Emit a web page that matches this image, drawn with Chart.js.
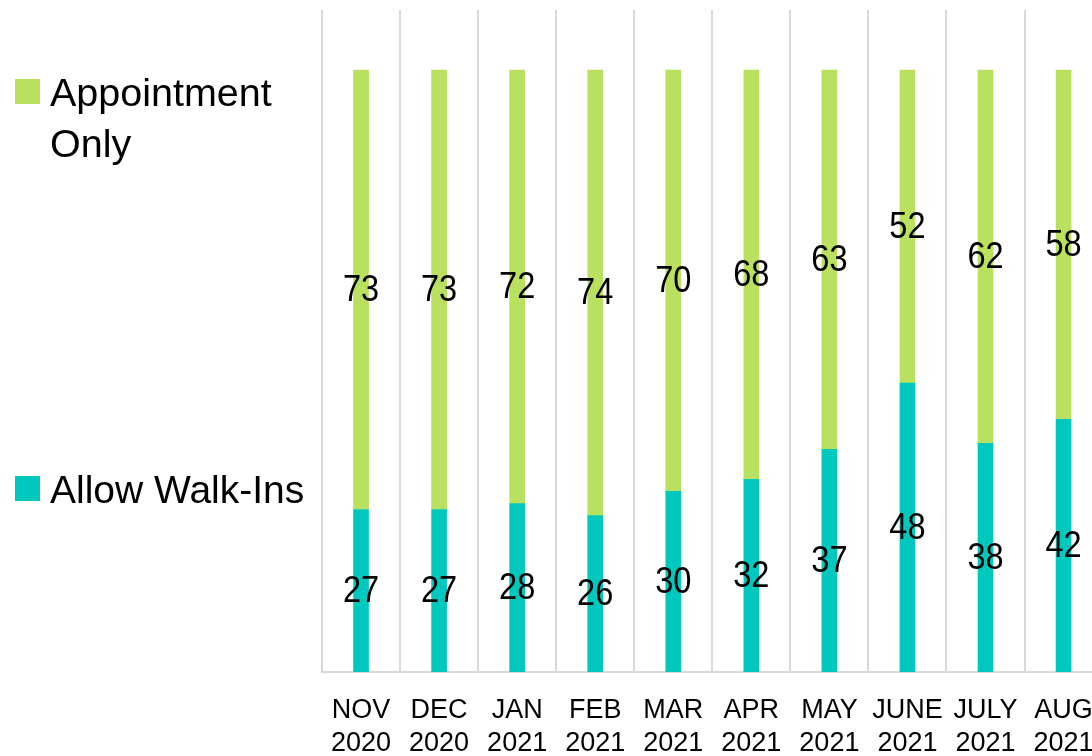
<!DOCTYPE html>
<html>
<head>
<meta charset="utf-8">
<script src="https://cdn.jsdelivr.net/npm/chart.js@4.4.0/dist/chart.umd.min.js"></script>
<style>
  html, body { margin: 0; padding: 0; background: #fff; overflow: hidden; width: 1092px; height: 756px; }
  #wrap { position: relative; width: 1092px; height: 756px; overflow: hidden; }
  canvas { position: absolute; left: 0; top: 0; }
  .leg { position: absolute; font-family: "Liberation Sans", Arial, sans-serif; color: #000; }
  .sw { position: absolute; width: 25px; height: 25px; }
  .lt { position: absolute; white-space: nowrap; }
</style>
</head>
<body>
<div id="wrap">
  <canvas id="c" width="1116" height="756"></canvas>
  <div id="legend"></div>
</div>
<script>
const categories = [
  ["NOV", "2020"], ["DEC", "2020"], ["JAN", "2021"], ["FEB", "2021"], ["MAR", "2021"],
  ["APR", "2021"], ["MAY", "2021"], ["JUNE", "2021"], ["JULY", "2021"], ["AUG", "2021"]
];
const walkInLabel = "Allow Walk-Ins";
const appointmentLabel = "Appointment Only";
const walkIns = [27, 27, 28, 26, 30, 32, 37, 48, 38, 42];
const appointmentOnly = [73, 73, 72, 74, 70, 68, 63, 52, 62, 58];
const walkInColor = "#00C8BE";
const appointmentColor = "#B9E05E";

// HTML legend
const legend = document.getElementById('legend');
legend.innerHTML =
  '<div class="leg" style="left:0;top:0;">' +
    '<div class="sw" style="left:15px;top:79px;background:' + appointmentColor + '"></div>' +
    '<div class="lt" style="left:50px;top:67px;font-size:39.5px;line-height:51px;">Appointment<br>Only</div>' +
    '<div class="sw" style="left:15px;top:476px;background:' + walkInColor + '"></div>' +
    '<div class="lt" style="left:50px;top:464px;font-size:39px;line-height:51px;">' + walkInLabel + '</div>' +
  '</div>';

const dataLabels = {
  id: 'dataLabels',
  afterDatasetsDraw(chart) {
    const ctx = chart.ctx;
    chart.data.datasets.forEach((ds, di) => {
      const meta = chart.getDatasetMeta(di);
      meta.data.forEach((el, i) => {
        const p = el.getProps(['x', 'y', 'base'], true);
        ctx.save();
        ctx.font = '37px "Liberation Sans", Arial, sans-serif';
        ctx.fillStyle = '#000';
        ctx.textAlign = 'center';
        ctx.textBaseline = 'middle';
        ctx.translate(p.x, (p.y + p.base) / 2 + 1);
        ctx.scale(0.88, 1);
        ctx.fillText(String(ds.data[i]), 0, 0);
        ctx.restore();
      });
    });
  }
};

new Chart(document.getElementById('c'), {
  type: 'bar',
  data: {
    labels: categories,
    datasets: [
      { label: walkInLabel, data: walkIns, backgroundColor: walkInColor, barThickness: 15 },
      { label: appointmentLabel, data: appointmentOnly, backgroundColor: appointmentColor, barThickness: 15 }
    ]
  },
  options: {
    responsive: false,
    animation: false,
    layout: { padding: { left: 322, right: 8, top: 10, bottom: 0 } },
    plugins: { legend: { display: false }, tooltip: { enabled: false } },
    scales: {
      x: {
        stacked: true,
        offset: true,
        grid: { display: true, offset: true, color: '#D9D9D9', lineWidth: 2, drawTicks: false },
        border: { display: true, color: '#D9D9D9', width: 2 },
        ticks: {
          color: '#000',
          padding: 22,
          maxRotation: 0,
          autoSkip: false,
          font: { family: '"Liberation Sans", Arial, sans-serif', size: 27, lineHeight: 33 / 27 }
        },
        afterFit(scale) { scale.height = 84; }
      },
      y: {
        stacked: true,
        display: false,
        min: 0,
        max: 110
      }
    }
  },
  plugins: [dataLabels]
});
</script>
</body>
</html>
